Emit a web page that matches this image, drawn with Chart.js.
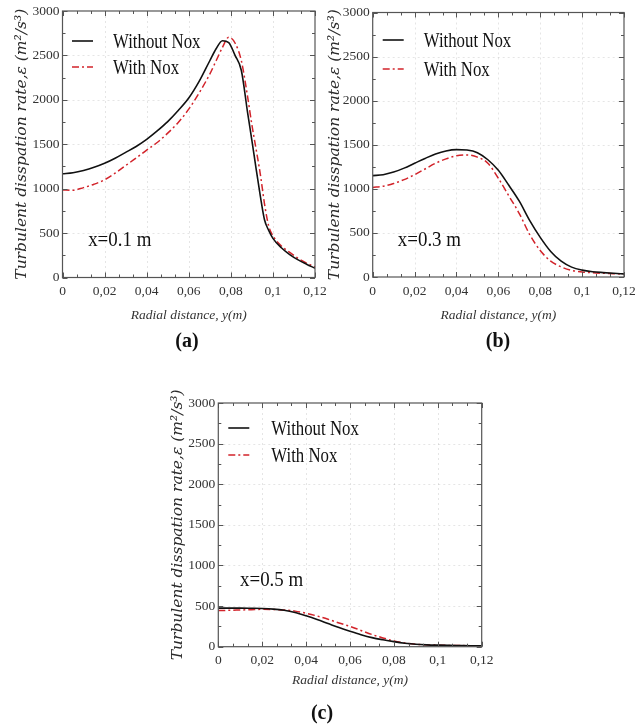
<!DOCTYPE html>
<html><head><meta charset="utf-8">
<script src="https://cdn.jsdelivr.net/npm/chart.js@4.4.1/dist/chart.umd.min.js"></script>
<style>
html,body{margin:0;padding:0;background:#fff;width:637px;height:725px;overflow:hidden;position:relative}
.wrap{position:absolute}
.wrap canvas{display:block}
.lbl{position:absolute;font-family:"Liberation Serif","Times New Roman",serif;font-weight:bold;font-size:20px;color:#111;transform:translate(-50%,-50%);white-space:nowrap}
</style></head><body>
<div class="wrap" style="left:0px;top:0px"><canvas id="ca" width="335" height="330"></canvas></div>
<div class="wrap" style="left:310px;top:0px"><canvas id="cb" width="327" height="330"></canvas></div>
<div class="wrap" style="left:155px;top:390px"><canvas id="cc" width="340" height="335"></canvas></div>
<div class="lbl" id="la" style="left:187px;top:340px"></div>
<div class="lbl" id="lb" style="left:498px;top:340px"></div>
<div class="lbl" id="lc" style="left:322px;top:712px"></div>
<script>
// ---------- DATA ----------
const seriesNames = ['Without Nox', 'With Nox'];
const stationLabels = ['x=0.1 m', 'x=0.3 m', 'x=0.5 m'];
const panelLetters = ['(a)', '(b)', '(c)'];
const xTitle = 'Radial distance, y(m)';
const yTitle = 'Turbulent disspation rate,\u03b5 (m\u00b2/s\u00b3)';

// Panel (a) x = 0.1 m
const xA = [0, 0.005, 0.01, 0.015, 0.02, 0.025, 0.03, 0.035, 0.04, 0.045, 0.05, 0.055, 0.06, 0.065, 0.07, 0.073, 0.076, 0.079, 0.082, 0.085, 0.088, 0.09, 0.092, 0.094, 0.096, 0.098, 0.1, 0.104, 0.108, 0.112, 0.116, 0.12];
const withoutA = [1168, 1180, 1205, 1240, 1285, 1342, 1408, 1475, 1555, 1650, 1755, 1880, 2020, 2210, 2440, 2575, 2665, 2645, 2500, 2330, 1850, 1545, 1225, 920, 650, 530, 440, 335, 258, 198, 150, 105];
const withA = [985, 982, 1012, 1050, 1100, 1175, 1260, 1345, 1435, 1520, 1625, 1745, 1895, 2080, 2290, 2440, 2590, 2705, 2640, 2440, 2030, 1720, 1445, 1165, 830, 580, 470, 355, 282, 215, 162, 120];

// Panel (b) x = 0.3 m
const xB = [0, 0.005, 0.01, 0.015, 0.02, 0.025, 0.03, 0.035, 0.04, 0.045, 0.05, 0.055, 0.06, 0.065, 0.07, 0.075, 0.08, 0.085, 0.09, 0.095, 0.1, 0.105, 0.11, 0.115, 0.12];
const withoutB = [1150, 1160, 1190, 1235, 1290, 1345, 1395, 1430, 1445, 1440, 1410, 1330, 1210, 1040, 860, 640, 450, 290, 180, 112, 78, 60, 50, 42, 35];
const withB = [1015, 1030, 1060, 1105, 1160, 1225, 1290, 1340, 1375, 1385, 1360, 1290, 1120, 920, 720, 480, 300, 180, 115, 75, 58, 48, 42, 38, 33];

// Panel (c) x = 0.5 m
const xC = [0, 0.005, 0.01, 0.015, 0.02, 0.025, 0.03, 0.035, 0.04, 0.045, 0.05, 0.055, 0.06, 0.065, 0.07, 0.075, 0.08, 0.085, 0.09, 0.095, 0.1, 0.105, 0.11, 0.115, 0.12];
const withoutC = [475, 475, 475, 473, 470, 463, 448, 420, 380, 335, 285, 235, 190, 148, 112, 85, 62, 43, 30, 23, 19, 16, 14, 12, 11];
const withC = [445, 448, 452, 456, 460, 458, 452, 438, 412, 378, 338, 292, 250, 200, 150, 108, 70, 45, 30, 23, 19, 16, 14, 12, 11];

// axis ranges / ticks
const xMin = 0, xMax = 0.12, xStep = 0.02;
const yMin = 0, yMax = 3000, yStep = 500;

// ---------- STYLE / LAYOUT ----------
const panels = [
  {id:'ca', letter:'la', x:xA, s0:withoutA, s1:withA, station:stationLabels[0], w:335, h:330,
   area:{left:62.5, top:11, right:315, bottom:277.5}, yTitleX:22, xTitleY:315,
   leg:{lx:9.5, y1:30, y2:56, tx:50.5}, ann:{x:0.0122, y:420}},
  {id:'cb', letter:'lb', x:xB, s0:withoutB, s1:withB, station:stationLabels[1], w:327, h:330,
   area:{left:62.7, top:12.5, right:314, bottom:277}, yTitleX:25, xTitleY:315,
   leg:{lx:10, y1:27.5, y2:56.5, tx:51}, ann:{x:0.012, y:418}},
  {id:'cc', letter:'lc', x:xC, s0:withoutC, s1:withC, station:stationLabels[2], w:340, h:335,
   area:{left:63.3, top:13, right:326.7, bottom:256.7}, yTitleX:23, xTitleY:290,
   leg:{lx:10, y1:25, y2:52, tx:53}, ann:{x:0.0099, y:809}}
];

const BLACK = '#111111';
const RED = '#d2232a';
const RED_DASH = [7, 3, 2, 3];

const decoPlugin = {
  id: 'deco',
  beforeDatasetsDraw(chart, args, o) {
    const {ctx, chartArea: ca, scales: {x, y}} = chart;
    ctx.save();
    ctx.strokeStyle = 'rgba(0,0,0,0.10)';
    ctx.lineWidth = 1;
    ctx.setLineDash([2, 3]);
    for (let v = xStep; v < xMax - 1e-9; v += xStep) {
      const px = Math.round(x.getPixelForValue(v)) + 0.5;
      ctx.beginPath(); ctx.moveTo(px, ca.top); ctx.lineTo(px, ca.bottom); ctx.stroke();
    }
    for (let v = yStep; v < yMax; v += yStep) {
      const py = Math.round(y.getPixelForValue(v)) + 0.5;
      ctx.beginPath(); ctx.moveTo(ca.left, py); ctx.lineTo(ca.right, py); ctx.stroke();
    }
    ctx.restore();
  },
  afterDatasetsDraw(chart, args, o) {
    const {ctx, chartArea: ca, scales: {x, y}} = chart;
    ctx.save();
    ctx.strokeStyle = '#555';
    ctx.lineWidth = 1.2;
    ctx.strokeRect(ca.left, ca.top, ca.right - ca.left, ca.bottom - ca.top);
    ctx.lineWidth = 1;
    const nx = Math.round((xMax - xMin) / xStep) * 3;
    for (let i = 0; i <= nx; i++) {
      const v = xMin + i * xStep / 3;
      const px = Math.round(x.getPixelForValue(v)) + 0.5;
      const len = (i % 3 === 0) ? 5 : 3;
      ctx.beginPath();
      ctx.moveTo(px, ca.bottom); ctx.lineTo(px, ca.bottom - len);
      ctx.moveTo(px, ca.top); ctx.lineTo(px, ca.top + len);
      ctx.stroke();
    }
    const ny = Math.round((yMax - yMin) / yStep) * 2;
    for (let i = 0; i <= ny; i++) {
      const v = yMin + i * yStep / 2;
      const py = Math.round(y.getPixelForValue(v)) + 0.5;
      const len = (i % 2 === 0) ? 5 : 3;
      ctx.beginPath();
      ctx.moveTo(ca.left, py); ctx.lineTo(ca.left + len, py);
      ctx.moveTo(ca.right, py); ctx.lineTo(ca.right - len, py);
      ctx.stroke();
    }
    const L = o.leg;
    const ds = chart.data.datasets;
    [[L.y1, ds[0]], [L.y2, ds[1]]].forEach(([dy, d]) => {
      const yy = ca.top + dy;
      ctx.strokeStyle = d.borderColor;
      ctx.lineWidth = d.borderWidth;
      ctx.setLineDash(d.borderDash || []);
      ctx.beginPath(); ctx.moveTo(ca.left + L.lx, yy); ctx.lineTo(ca.left + L.lx + 21, yy); ctx.stroke();
      ctx.setLineDash([]);
      ctx.save();
      ctx.translate(ca.left + L.tx, yy + 1);
      ctx.scale(0.8, 1);
      ctx.fillStyle = '#111';
      ctx.font = '21px "Liberation Serif", "Times New Roman", serif';
      ctx.textBaseline = 'middle';
      ctx.fillText(d.label, 0, 0);
      ctx.restore();
    });
    ctx.save();
    ctx.translate(x.getPixelForValue(o.ann.x), y.getPixelForValue(o.ann.y));
    ctx.scale(0.9, 1);
    ctx.fillStyle = '#111';
    ctx.font = '21px "Liberation Serif", "Times New Roman", serif';
    ctx.textBaseline = 'middle';
    ctx.fillText(o.station, 0, 0);
    ctx.restore();
    ctx.restore();
  }
};

const tickFont = {family: '"Liberation Serif", "Times New Roman", serif', size: 13.5};
const yTitleSize = 15.5;

panels.forEach((p, k) => {
  document.getElementById(p.letter).textContent = panelLetters[k];
  const yLH = yTitleSize * 1.2;
  const xLH = 13.5 * 1.2;
  new Chart(document.getElementById(p.id), {
    type: 'line',
    data: {
      datasets: [
        {label: seriesNames[0], data: p.x.map((v, i) => ({x: v, y: p.s0[i]})),
         borderColor: BLACK, borderWidth: 1.6, pointRadius: 0, fill: false,
         cubicInterpolationMode: 'monotone'},
        {label: seriesNames[1], data: p.x.map((v, i) => ({x: v, y: p.s1[i]})),
         borderColor: RED, borderWidth: 1.5, borderDash: RED_DASH, pointRadius: 0, fill: false,
         cubicInterpolationMode: 'monotone'}
      ]
    },
    options: {
      responsive: false,
      animation: false,
      events: [],
      layout: {padding: {left: 0, top: p.area.top, right: p.w - p.area.right, bottom: 0}},
      plugins: {
        legend: {display: false},
        tooltip: {enabled: false},
        deco: {leg: p.leg, ann: p.ann, station: p.station}
      },
      scales: {
        x: {
          type: 'linear', min: xMin, max: xMax,
          grid: {display: false, drawTicks: false},
          border: {display: false},
          ticks: {
            stepSize: xStep, padding: 6, color: '#333', font: tickFont, maxRotation: 0,
            callback: v => String(Math.round(v * 100) / 100).replace('.', ',')
          },
          title: {
            display: true, text: xTitle, color: '#333',
            font: {family: '"Liberation Serif", "Times New Roman", serif', size: 13.5, style: 'italic'},
            padding: {top: 0, bottom: p.h - p.xTitleY - xLH / 2}
          },
          afterFit: s => { s.height = p.h - p.area.bottom; s.paddingLeft = 0; s.paddingRight = 0; }
        },
        y: {
          type: 'linear', min: yMin, max: yMax,
          grid: {display: false, drawTicks: false},
          border: {display: false},
          ticks: {stepSize: yStep, padding: 3, color: '#333', font: tickFont, callback: v => String(v)},
          title: {
            display: true, text: yTitle, color: '#2a2a2a',
            font: {family: '"DejaVu Serif"', size: yTitleSize, style: 'italic'},
            padding: {top: p.yTitleX - yLH / 2, bottom: 0}
          },
          afterFit: s => { s.width = p.area.left; s.paddingTop = 0; s.paddingBottom = 0; }
        }
      }
    },
    plugins: [decoPlugin]
  });
});
</script>
</body></html>
